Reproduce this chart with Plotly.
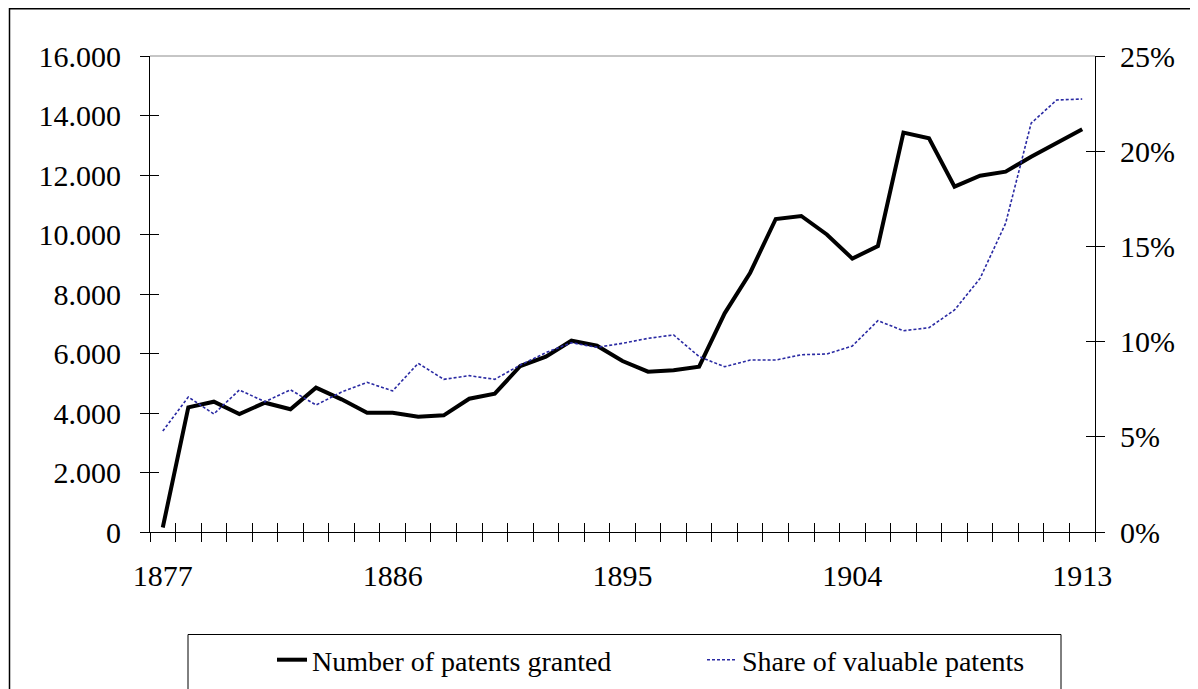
import plotly.graph_objects as go

years = list(range(1877, 1914))
patents_granted = [150, 4190, 4380, 3966, 4346, 4124, 4850, 4460, 4010, 4010,
                   3876, 3922, 4480, 4650, 5580, 5893, 6430, 6262, 5748, 5389,
                   5435, 5557, 7350, 8716, 10521, 10622, 10000, 9190, 9613, 13423,
                   13233, 11607, 11977, 12112, 12616, 13065, 13535]
share_valuable_pct = [5.30, 7.09, 6.20, 7.46, 6.84, 7.47, 6.67, 7.35, 7.86, 7.41,
                      8.86, 8.02, 8.21, 8.02, 8.77, 9.42, 9.94, 9.70, 9.91, 10.17,
                      10.35, 9.21, 8.68, 9.03, 9.03, 9.31, 9.35, 9.77, 11.10, 10.57,
                      10.73, 11.66, 13.32, 16.21, 21.47, 22.69, 22.74]
x_tick_labels = [1877, 1886, 1895, 1904, 1913]
left_ticks = list(range(0, 16001, 2000))
right_ticks = [0, 0.05, 0.10, 0.15, 0.20, 0.25]

FONT = "Liberation Serif"
OFF = 8  # page body margin of the browser
W, H = 1198 - OFF, 689 - OFF
L, R, T, B = 142, 103, 48, 157
pw, ph = W - L - R, H - T - B


def px_x(p):
    """screen x pixel -> paper coordinate"""
    return (p - OFF - L) / pw


def px_y(p):
    """screen y pixel -> paper coordinate"""
    return (H - B - (p - OFF)) / ph


fig = go.Figure()
fig.add_trace(go.Scatter(
    x=years, y=patents_granted, name="Number of patents granted",
    mode="lines", line=dict(color="black", width=4), yaxis="y"))
fig.add_trace(go.Scatter(
    x=years, y=[v / 100 for v in share_valuable_pct], name="Share of valuable patents",
    mode="lines", line=dict(color="#2a2aa3", width=1.6, dash="3px,2px"), yaxis="y2"))

# invisible helper traces so the overlay axes (inner halves of crossing ticks) render
for xa, ya in [("x2", "y"), ("x", "y3"), ("x", "y4")]:
    fig.add_trace(go.Scatter(x=[years[0]], y=[0], xaxis=xa, yaxis=ya, mode="markers",
                             marker=dict(opacity=0), showlegend=False, hoverinfo="skip"))

xr = [years[0] - 0.5, years[-1] + 0.5]
tickfont = dict(family=FONT, size=30, color="black")

fig.update_layout(
    width=W, height=H,
    margin=dict(l=L, r=R, t=T, b=B, autoexpand=False),
    paper_bgcolor="white", plot_bgcolor="white",
    separators=",.",
    font=dict(family=FONT, color="black"),
    xaxis=dict(range=xr, tickmode="array", tickvals=x_tick_labels,
               ticktext=[str(v) for v in x_tick_labels], ticks="",
               ticklabelstandoff=17,
               showline=True, linecolor="black", linewidth=1, showgrid=False, zeroline=False,
               tickfont=tickfont,
               minor=dict(tickmode="linear", tick0=xr[0], dtick=1, ticks="outside",
                          ticklen=9, tickcolor="black", tickwidth=1, showgrid=False)),
    xaxis2=dict(range=xr, overlaying="x", anchor="y", side="bottom", tickmode="linear",
                tick0=xr[0], dtick=1, ticks="inside", ticklen=9, tickcolor="black",
                showticklabels=False, showline=False, showgrid=False, zeroline=False),
    yaxis=dict(range=[0, 16000], tickmode="array", tickvals=left_ticks, tickformat=",d",
               ticks="outside", ticklen=9, tickcolor="black", ticklabelstandoff=13,
               showline=True, linecolor="black", linewidth=1, showgrid=False, zeroline=False,
               tickfont=tickfont),
    yaxis3=dict(range=[0, 16000], overlaying="y", anchor="x", side="left", tickmode="array",
                tickvals=left_ticks, ticks="inside", ticklen=9, tickcolor="black",
                showticklabels=False, showline=False, showgrid=False, zeroline=False),
    yaxis2=dict(range=[0, 0.25], overlaying="y", anchor="x", side="right", tickmode="array",
                tickvals=right_ticks, tickformat=".0%", ticks="outside", ticklen=9,
                tickcolor="black", ticklabelstandoff=9,
                showline=True, linecolor="black", linewidth=1, showgrid=False, zeroline=False,
                tickfont=tickfont),
    yaxis4=dict(range=[0, 0.25], overlaying="y", anchor="x", side="right", tickmode="array",
                tickvals=right_ticks, ticks="inside", ticklen=9, tickcolor="black",
                showticklabels=False, showline=False, showgrid=False, zeroline=False),
    legend=dict(orientation="h", x=px_x(272), xanchor="left", y=px_y(635), yanchor="top",
                font=dict(family=FONT, size=28, color="black"), entrywidth=385,
                bgcolor="rgba(0,0,0,0)", borderwidth=0),
    shapes=[
        # outer chart frame
        dict(type="rect", xref="paper", yref="paper", x0=px_x(9.5), x1=px_x(1196.5),
             y0=px_y(720), y1=px_y(8.8), line=dict(color="black", width=1.5), layer="below"),
        # top border of plot area
        dict(type="line", xref="paper", yref="paper", x0=0, x1=1, y0=1, y1=1,
             line=dict(color="#8c8c8c", width=1)),
        # legend box
        dict(type="rect", xref="paper", yref="paper", x0=px_x(188), x1=px_x(1061),
             y0=px_y(720), y1=px_y(634.5), line=dict(color="black", width=1), layer="below"),
    ],
)

fig.write_html("out.html")
